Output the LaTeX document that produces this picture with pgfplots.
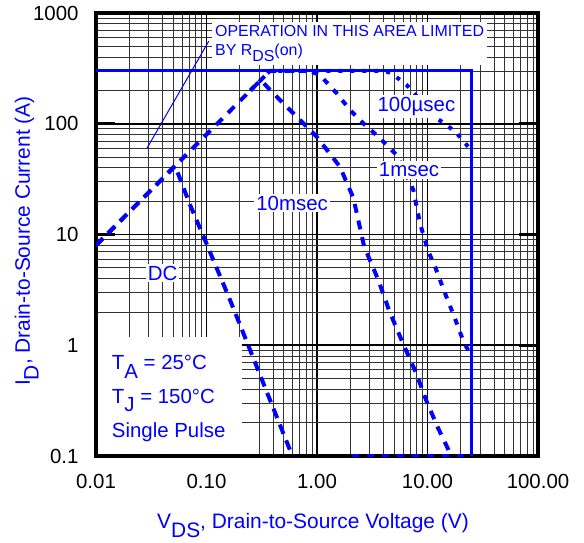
\documentclass[border=0pt]{standalone}
\usepackage{fontspec}
\setmainfont{Liberation Sans}
\usepackage{pgfplots}
\pgfplotsset{compat=1.18}

% subscript at full size, only lowered
\newcommand{\sub}[1]{\raisebox{-0.42em}{#1}}
\newcommand{\lab}{\fontsize{20.5}{24}\selectfont}

\begin{document}
\begin{tikzpicture}
\begin{axis}[
    width=442bp, height=443bp, scale only axis,
    xmode=log, ymode=log,
    xmin=0.01, xmax=100, ymin=0.1, ymax=1000,
    xtick={0.01,0.1,1,10,100},
    xticklabels={0.01,0.10,1.00,10.00,100.00},
    ytick={0.1,1,10,100,1000},
    yticklabels={0.1,1,10,100,1000},
    minor xtick={0.02,0.03,0.04,0.05,0.06,0.07,0.08,0.09,0.2,0.3,0.4,0.5,0.6,0.7,0.8,0.9,2,3,4,5,6,7,8,9,20,30,40,50,60,70,80,90},
    minor ytick={0.2,0.3,0.4,0.5,0.6,0.7,0.8,0.9,2,3,4,5,6,7,8,9,20,30,40,50,60,70,80,90,200,300,400,500,600,700,800,900},
    grid=both,
    major grid style={black, line width=1.6bp},
    minor grid style={black!80, line width=0.8bp},
    axis line style={black, line width=3.5bp},
    tick align=inside,
    major tick length=19bp,
    minor tick length=0pt,
    ytick style={black, line width=2.5bp},
    xtick style={black, line width=1.6bp},
    ticklabel style={font=\lab, black},
    yticklabel style={xshift=-14bp},
    xticklabel style={yshift=-15bp},
    xlabel={V\sub{DS}, Drain-to-Source Voltage (V)},
    ylabel={I\sub{D}, Drain-to-Source Current (A)},
    label style={font=\fontsize{21}{25}\selectfont, text=blue},
    xlabel style={at={(axis description cs:0.491,-0.157)}, anchor=center},
    ylabel style={at={(axis description cs:-0.157,0.485)}, anchor=center},
]

% limits: 300 A and V(BR)DSS
\addplot[blue, line width=3bp] coordinates {(0.01,300) (25.1,300) (25.1,0.1)};
% pointer to the Rds(on) note
\addplot[blue, line width=1bp] coordinates {(0.029,60.4) (0.105,558)};

% DC
\addplot[blue, line width=4bp, dash pattern=on 10bp off 7bp] coordinates {
    (0.01,8) (0.052,41.6) (0.071,18.5) (0.097,8.9) (0.163,2.57)
    (0.248,0.906) (0.432,0.226) (0.57,0.113) (0.598,0.1)};
% 10 msec
\addplot[blue, line width=4bp, dash pattern=on 9bp off 8bp] coordinates {
    (0.01,8) (0.31,248) (0.376,202) (0.57,133) (0.993,76.4) (1.61,41)
    (2.13,21.5) (2.67,7.8) (3.59,3.88) (4.51,2.04) (5.97,1.05)
    (7.87,0.565) (9.84,0.309) (12.5,0.178) (16,0.106) (16.4,0.1)};
% 1 msec
\addplot[blue, line width=4bp, dash pattern=on 6bp off 8bp] coordinates {
    (0.25,200) (0.375,300) (0.85,300) (1.06,276) (1.51,188) (1.99,133)
    (2.72,97.5) (3.59,76.4) (5.26,52.2) (7.45,25.2) (8.55,12.6) (10.2,7.0)
    (11.7,5.12) (14.4,2.95) (17.7,1.75) (21.4,1.05) (24.3,0.845) (25.1,0.8)};
% 100 usec
\addplot[blue, line width=4bp, dash pattern=on 4bp off 8bp] coordinates {
    (0.25,200) (0.375,300) (4.1,300) (4.73,285) (6.47,224) (12.1,112)
    (14.9,97.5) (18.4,82) (25.1,57)};
% dashed run along the floor
\addplot[blue, line width=4bp, dash pattern=on 7bp off 8bp] coordinates {(2.06,0.1) (25.1,0.1)};

\node[anchor=base, fill=white, inner sep=2bp, text=blue, font=\lab] at (axis cs:7.94,128.6) {100µsec};
\node[anchor=base, fill=white, inner sep=2bp, text=blue, font=\lab] at (axis cs:6.81,33.3) {1msec};
\node[anchor=base, fill=white, inner sep=2bp, text=blue, font=\lab] at (axis cs:0.595,16.6) {10msec};
\node[anchor=base, fill=white, inner sep=2bp, text=blue, font=\lab] at (axis cs:0.040,3.88) {DC};
\node[anchor=north west, fill=white, inner sep=3bp, text=blue, align=left,
      font=\fontsize{16}{19}\selectfont] at (axis cs:0.112,830)
      {OPERATION IN THIS AREA LIMITED\\BY R\sub{DS}(on)};

\fill[white] ([xshift=1.75bp,yshift=1.75bp]axis cs:0.01,0.1) rectangle (axis cs:0.209,1.187);
\node[anchor=north west, inner sep=3bp, text=blue, align=left,
      font=\fontsize{20.5}{34}\selectfont] at (axis cs:0.01303,0.869)
      {T\sub{A} = 25°C\\T\sub{J} = 150°C\\Single Pulse};
\end{axis}
\pgfresetboundingbox
\path ([xshift=-96bp,yshift=-86bp]current axis.south west)
    rectangle ([xshift=46bp,yshift=13bp]current axis.north east);
\end{tikzpicture}
\end{document}
